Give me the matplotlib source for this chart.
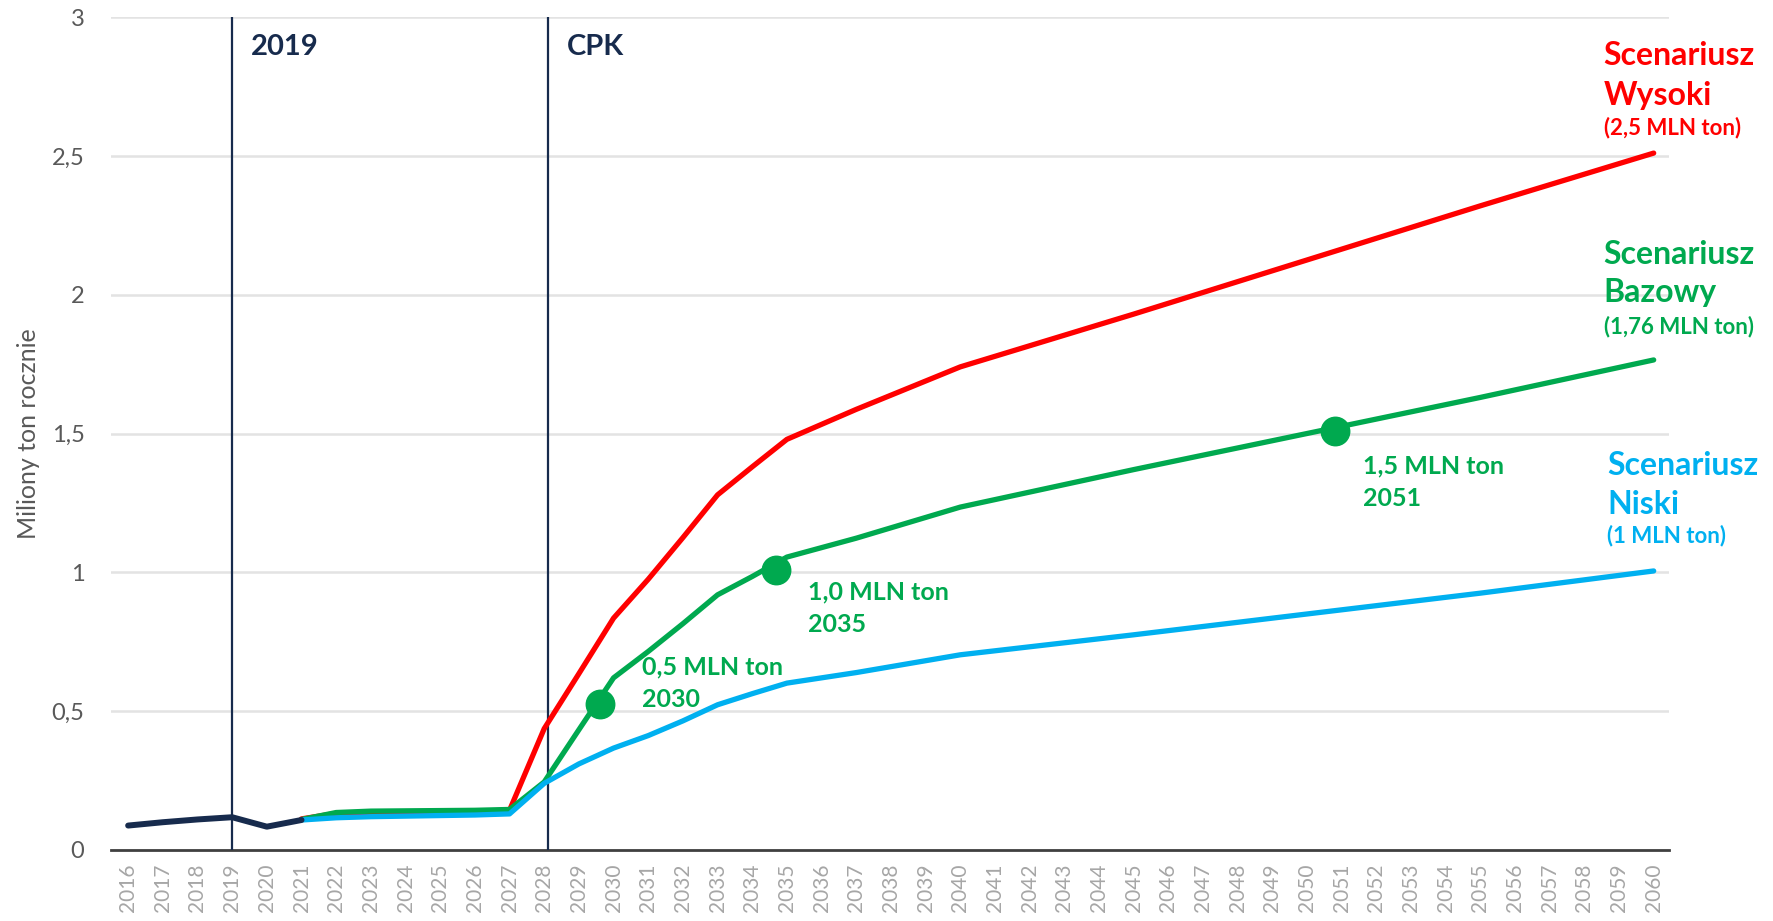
import numpy as np
import matplotlib
matplotlib.use('Agg')
import matplotlib.pyplot as plt

plt.rcParams['font.family'] = ['Lato', 'DejaVu Sans']

# -------------------------------------------------------------------
# DANE
# -------------------------------------------------------------------
lata_hist = [2016, 2017, 2018, 2019, 2020, 2021]
hist = [0.088, 0.100, 0.110, 0.118, 0.084, 0.108]

lata = [2021, 2022, 2023, 2024, 2025, 2026, 2027, 2028, 2029, 2030,
        2031, 2032, 2033, 2034, 2035, 2037, 2040, 2045, 2050, 2055, 2060]
wysoki = [0.112, 0.132, 0.136, 0.138, 0.139, 0.140, 0.143, 0.437, 0.635, 0.835,
          0.975, 1.125, 1.279, 1.38, 1.479, 1.587, 1.74, 1.93, 2.125, 2.32, 2.51]
bazowy = [0.110, 0.135, 0.140, 0.141, 0.142, 0.143, 0.146, 0.245, 0.433, 0.62,
          0.715, 0.815, 0.919, 0.985, 1.055, 1.123, 1.235, 1.37, 1.50, 1.63, 1.765]
niski = [0.108, 0.116, 0.120, 0.122, 0.124, 0.126, 0.130, 0.240, 0.310, 0.367,
         0.412, 0.465, 0.523, 0.563, 0.601, 0.639, 0.703, 0.775, 0.85, 0.925, 1.005]

# kamienie milowe scenariusza bazowego
kamienie_x = [2029.6, 2034.7, 2050.8]
kamienie_y = [0.525, 1.01, 1.51]
kamienie_ilosc = ['0,5 MLN ton', '1,0 MLN ton', '1,5 MLN ton']
kamienie_rok = ['2030', '2035', '2051']

znaczniki_lat = [2019, 2028.1]
znaczniki_txt = ['2019', 'CPK']

scen_nazwa = ['Wysoki', 'Bazowy', 'Niski']
scen_wartosc = ['(2,5 MLN ton)', '(1,76 MLN ton)', '(1 MLN ton)']

yticks = [0, 0.5, 1, 1.5, 2, 2.5, 3]
yticklabels = ['0', '0,5', '1', '1,5', '2', '2,5', '3']

# -------------------------------------------------------------------
# KOLORY
# -------------------------------------------------------------------
c_red = '#ff0000'
c_green = '#00a94f'
c_blue = '#00b0f0'
c_navy = '#172b4d'

fig = plt.figure(figsize=(17.73, 9.21), dpi=100)
ax = fig.add_axes([0.0625, 0.0771, 0.879, 0.9044])

lw = 3.8
ax.plot(lata, wysoki, color=c_red, linewidth=lw, solid_capstyle='round', zorder=4)
ax.plot(lata, bazowy, color=c_green, linewidth=lw, solid_capstyle='round', zorder=4)
ax.plot(lata, niski, color=c_blue, linewidth=lw, solid_capstyle='round', zorder=5)
ax.plot(lata_hist, hist, color=c_navy, linewidth=4.3, solid_capstyle='round', zorder=6)

ax.plot(kamienie_x, kamienie_y, 'o', color=c_green, markersize=20.5, zorder=7)

# pozycje opisow (lewy brzeg, linia bazowa pierwszego wiersza)
opis_pos = [(2030.83, 0.631), (2035.62, 0.901), (2051.62, 1.355)]
for (x, y), t1, t2 in zip(opis_pos, kamienie_ilosc, kamienie_rok):
    ax.text(x, y, t1, color=c_green, fontsize=18, fontweight='bold',
            va='baseline', ha='left', zorder=8)
    ax.text(x, y - 0.117, t2, color=c_green, fontsize=18, fontweight='bold',
            va='baseline', ha='left', zorder=8)

for x, t in zip(znaczniki_lat, znaczniki_txt):
    ax.vlines(x, 0, 3, color=c_navy, linewidth=1.6, zorder=3)
    ax.text(x + 0.55, 2.865, t, color=c_navy, fontsize=21, fontweight='bold',
            va='baseline', ha='left')

# etykiety scenariuszy po prawej
scen_kol = [c_red, c_green, c_blue]
scen_y = [(2.827, 2.684, 2.578), (2.111, 1.975, 1.861), (1.351, 1.210, 1.108)]
scen_x = [2058.56, 2058.56, 2058.66]
for nazwa, wart, kol, (y1, y2, y3), x in zip(scen_nazwa, scen_wartosc, scen_kol, scen_y, scen_x):
    ax.text(x, y1, 'Scenariusz', color=kol, fontsize=23, fontweight='bold',
            va='baseline', ha='left', clip_on=False)
    ax.text(x, y2, nazwa, color=kol, fontsize=23, fontweight='bold',
            va='baseline', ha='left', clip_on=False)
    ax.text(x, y3, wart, color=kol, fontsize=16, fontweight='bold',
            va='baseline', ha='left', clip_on=False)

ax.set_xlim(2015.5, 2060.45)
ax.set_ylim(0, 3)
ax.set_xticks(range(2016, 2061))
ax.set_xticklabels([str(r) for r in range(2016, 2061)], rotation=90,
                   color='#a6a6a6', fontsize=15)
ax.set_yticks(yticks)
ax.set_yticklabels(yticklabels, color='#595959', fontsize=17)
ax.tick_params(axis='both', length=0)
ax.tick_params(axis='y', pad=19)
ax.tick_params(axis='x', pad=10)
ax.set_ylabel('Miliony ton rocznie', color='#595959', fontsize=18, labelpad=8)

ax.grid(axis='y', color='#e3e3e3', linewidth=1.8)
ax.set_axisbelow(True)
for s in ['top', 'right', 'left']:
    ax.spines[s].set_visible(False)
ax.spines['bottom'].set_color('#404040')
ax.spines['bottom'].set_linewidth(2)

plt.savefig('out.png', dpi=100)
